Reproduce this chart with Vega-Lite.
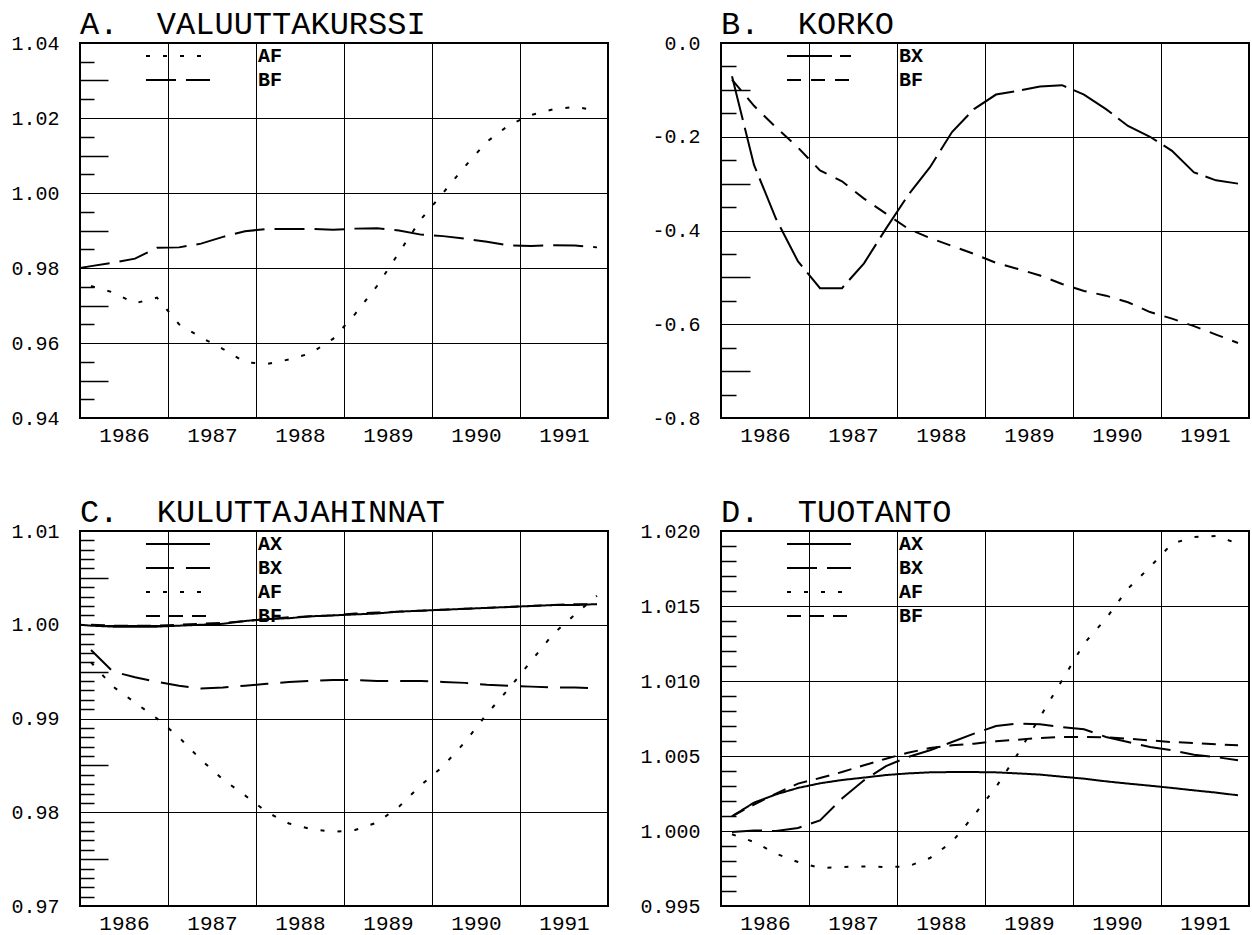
{
  "$schema": "https://vega.github.io/schema/vega-lite/v6.json",
  "background": "white",
  "padding": {"left": 9, "top": 7, "right": 5, "bottom": 2},
  "bounds": "flush",
  "columns": 2,
  "spacing": {"row": 113, "column": 113},
  "resolve": {"scale": {"strokeDash": "independent"}, "legend": {"strokeDash": "independent"}},
  "config": {
    "font": "Liberation Mono",
    "view": {"stroke": "black", "strokeWidth": 2},
    "axis": {"labelFont": "Liberation Mono", "labelFontSize": 20, "labelColor": "black", "domain": false, "ticks": false, "tickSize": 0, "gridColor": "black", "gridOpacity": 1, "gridWidth": 1, "title": null},
    "axisX": {"labelFontSize": 21},
    "legend": {"title": null, "symbolType": "stroke", "symbolSize": 4096, "symbolStrokeWidth": 2, "symbolStrokeColor": "black", "labelFont": "Liberation Mono", "labelFontSize": 20, "labelFontWeight": "bold", "labelColor": "black", "labelOffset": 47, "clipHeight": 24, "rowPadding": 0, "padding": 0},
    "title": {"font": "Liberation Mono", "fontSize": 32, "fontWeight": "normal", "anchor": "start", "frame": "group", "color": "black", "offset": -8, "baseline": "alphabetic"}
  },
  "concat": [
    {
      "title": {"text": "A.\u00a0\u00a0VALUUTTAKURSSI"},
      "width": 528, "height": 375,
      "data": {"values": [
        {"s":"AF","t":1986.125,"v":0.9752},{"s":"AF","t":1986.375,"v":0.9735},{"s":"AF","t":1986.625,"v":0.9706},{"s":"AF","t":1986.875,"v":0.9721},
        {"s":"AF","t":1987.125,"v":0.965},{"s":"AF","t":1987.375,"v":0.9615},{"s":"AF","t":1987.625,"v":0.9584},{"s":"AF","t":1987.875,"v":0.9549},
        {"s":"AF","t":1988.125,"v":0.9544},{"s":"AF","t":1988.375,"v":0.9556},{"s":"AF","t":1988.625,"v":0.9573},{"s":"AF","t":1988.875,"v":0.9611},
        {"s":"AF","t":1989.125,"v":0.9677},{"s":"AF","t":1989.375,"v":0.9752},{"s":"AF","t":1989.625,"v":0.9841},{"s":"AF","t":1989.875,"v":0.993},
        {"s":"AF","t":1990.125,"v":1.0},{"s":"AF","t":1990.375,"v":1.0071},{"s":"AF","t":1990.625,"v":1.0137},{"s":"AF","t":1990.875,"v":1.0181},
        {"s":"AF","t":1991.125,"v":1.0208},{"s":"AF","t":1991.375,"v":1.0223},{"s":"AF","t":1991.625,"v":1.023},{"s":"AF","t":1991.875,"v":1.022},
        {"s":"BF","t":1986.0,"v":0.9800},
        {"s":"BF","t":1986.125,"v":0.9805},{"s":"BF","t":1986.375,"v":0.9814},{"s":"BF","t":1986.625,"v":0.9825},{"s":"BF","t":1986.875,"v":0.9854},
        {"s":"BF","t":1987.125,"v":0.9855},{"s":"BF","t":1987.375,"v":0.9865},{"s":"BF","t":1987.625,"v":0.9883},{"s":"BF","t":1987.875,"v":0.9898},
        {"s":"BF","t":1988.125,"v":0.9904},{"s":"BF","t":1988.375,"v":0.9904},{"s":"BF","t":1988.625,"v":0.9904},{"s":"BF","t":1988.875,"v":0.9902},
        {"s":"BF","t":1989.125,"v":0.9905},{"s":"BF","t":1989.375,"v":0.9906},{"s":"BF","t":1989.625,"v":0.99},{"s":"BF","t":1989.875,"v":0.9889},
        {"s":"BF","t":1990.125,"v":0.9885},{"s":"BF","t":1990.375,"v":0.9878},{"s":"BF","t":1990.625,"v":0.987},{"s":"BF","t":1990.875,"v":0.986},
        {"s":"BF","t":1991.125,"v":0.9859},{"s":"BF","t":1991.375,"v":0.9861},{"s":"BF","t":1991.625,"v":0.986},{"s":"BF","t":1991.875,"v":0.9855}
      ]},
      "layer": [
        {
          "mark": {"type": "line", "strokeWidth": 2, "color": "black"},
          "encoding": {
            "x": {"field": "t", "type": "quantitative", "scale": {"domain": [1986, 1992], "nice": false, "zero": false},
                  "axis": {"values": [1986,1987,1988,1989,1990,1991], "format": "d", "labelOffset": 44, "grid": true, "labelPadding": 6, "labelFlush": false, "labelOverlap": false, "labelBound": false}},
            "y": {"field": "v", "type": "quantitative", "scale": {"domain": [0.94, 1.04], "nice": false, "zero": false},
                  "axis": {"orient": "left", "values": [0.94,0.96,0.98,1.0,1.02,1.04], "format": ".2f", "grid": true, "labelPadding": 21}},
            "strokeDash": {"field": "s", "type": "nominal", "scale": {"domain": ["AF","BF"], "range": [[4,13],[30,10]]},
                           "legend": {"orient": "none", "legendX": 65, "legendY": 1}}
          }
        },
        {
          "mark": {"type": "point", "opacity": 0},
          "encoding": {
            "x": {"field": "t", "type": "quantitative", "scale": {"domain": [1986, 1992], "nice": false, "zero": false}, "axis": null},
            "y": {"field": "v", "type": "quantitative", "scale": {"domain": [0.94, 1.04], "nice": false, "zero": false},
            "axis": {"orient": "left", "values": [0.945,0.955,0.965,0.975,0.985,0.995,1.005,1.015,1.025,1.035], "labels": false, "grid": false, "ticks": true, "tickSize": -14, "tickColor": "black", "tickWidth": 1.5}}}
        },
        {
          "mark": {"type": "point", "opacity": 0},
          "encoding": {
            "x": {"field": "t", "type": "quantitative", "scale": {"domain": [1986, 1992], "nice": false, "zero": false}, "axis": null},
            "y": {"field": "v", "type": "quantitative", "scale": {"domain": [0.94, 1.04], "nice": false, "zero": false},
            "axis": {"orient": "left", "values": [0.95,0.97,0.99,1.01,1.03], "labels": false, "grid": false, "ticks": true, "tickSize": -28, "tickColor": "black", "tickWidth": 1.5}}}
        }
      ],
      "resolve": {"axis": {"y": "independent", "x": "independent"}}
    },
    {
      "title": {"text": "B.\u00a0\u00a0KORKO"},
      "width": 528, "height": 375,
      "data": {"values": [
        {"s":"BX","t":1986.125,"v":-0.071},{"s":"BX","t":1986.375,"v":-0.26},{"s":"BX","t":1986.625,"v":-0.375},{"s":"BX","t":1986.875,"v":-0.466},
        {"s":"BX","t":1987.125,"v":-0.523},{"s":"BX","t":1987.375,"v":-0.523},{"s":"BX","t":1987.625,"v":-0.47},{"s":"BX","t":1987.875,"v":-0.396},
        {"s":"BX","t":1988.125,"v":-0.325},{"s":"BX","t":1988.375,"v":-0.265},{"s":"BX","t":1988.625,"v":-0.19},{"s":"BX","t":1988.875,"v":-0.141},
        {"s":"BX","t":1989.125,"v":-0.11},{"s":"BX","t":1989.375,"v":-0.102},{"s":"BX","t":1989.625,"v":-0.093},{"s":"BX","t":1989.875,"v":-0.09},
        {"s":"BX","t":1990.125,"v":-0.11},{"s":"BX","t":1990.375,"v":-0.141},{"s":"BX","t":1990.625,"v":-0.177},{"s":"BX","t":1990.875,"v":-0.2},
        {"s":"BX","t":1991.125,"v":-0.23},{"s":"BX","t":1991.375,"v":-0.276},{"s":"BX","t":1991.625,"v":-0.293},{"s":"BX","t":1991.875,"v":-0.3},
        {"s":"BF","t":1986.125,"v":-0.078},{"s":"BF","t":1986.375,"v":-0.134},{"s":"BF","t":1986.625,"v":-0.18},{"s":"BF","t":1986.875,"v":-0.223},
        {"s":"BF","t":1987.125,"v":-0.272},{"s":"BF","t":1987.375,"v":-0.295},{"s":"BF","t":1987.625,"v":-0.332},{"s":"BF","t":1987.875,"v":-0.364},
        {"s":"BF","t":1988.125,"v":-0.396},{"s":"BF","t":1988.375,"v":-0.416},{"s":"BF","t":1988.625,"v":-0.433},{"s":"BF","t":1988.875,"v":-0.45},
        {"s":"BF","t":1989.125,"v":-0.469},{"s":"BF","t":1989.375,"v":-0.482},{"s":"BF","t":1989.625,"v":-0.496},{"s":"BF","t":1989.875,"v":-0.514},
        {"s":"BF","t":1990.125,"v":-0.529},{"s":"BF","t":1990.375,"v":-0.539},{"s":"BF","t":1990.625,"v":-0.553},{"s":"BF","t":1990.875,"v":-0.574},
        {"s":"BF","t":1991.125,"v":-0.588},{"s":"BF","t":1991.375,"v":-0.604},{"s":"BF","t":1991.625,"v":-0.622},{"s":"BF","t":1991.875,"v":-0.64}
      ]},
      "layer": [
        {
          "mark": {"type": "line", "strokeWidth": 2, "color": "black"},
          "encoding": {
            "x": {"field": "t", "type": "quantitative", "scale": {"domain": [1986, 1992], "nice": false, "zero": false},
                  "axis": {"values": [1986,1987,1988,1989,1990,1991], "format": "d", "labelOffset": 44, "grid": true, "labelPadding": 6, "labelFlush": false, "labelOverlap": false, "labelBound": false}},
            "y": {"field": "v", "type": "quantitative", "scale": {"domain": [-0.8, 0], "nice": false, "zero": false},
                  "axis": {"orient": "left", "values": [-0.8,-0.6,-0.4,-0.2,0], "labelExpr": "replace(format(datum.value, '.1f'), '\u2212', '-')", "grid": true, "labelPadding": 21}},
            "strokeDash": {"field": "s", "type": "nominal", "scale": {"domain": ["BX","BF"], "range": [[45,8],[14,10]]},
                           "legend": {"orient": "none", "legendX": 65, "legendY": 1}}
          }
        },
        {
          "mark": {"type": "point", "opacity": 0},
          "encoding": {
            "x": {"field": "t", "type": "quantitative", "scale": {"domain": [1986, 1992], "nice": false, "zero": false}, "axis": null},
            "y": {"field": "v", "type": "quantitative", "scale": {"domain": [-0.8, 0], "nice": false, "zero": false},
            "axis": {"orient": "left", "values": [-0.75,-0.65,-0.55,-0.45,-0.35,-0.25,-0.15,-0.05], "labels": false, "grid": false, "ticks": true, "tickSize": -15, "tickColor": "black", "tickWidth": 1.5}}}
        },
        {
          "mark": {"type": "point", "opacity": 0},
          "encoding": {
            "x": {"field": "t", "type": "quantitative", "scale": {"domain": [1986, 1992], "nice": false, "zero": false}, "axis": null},
            "y": {"field": "v", "type": "quantitative", "scale": {"domain": [-0.8, 0], "nice": false, "zero": false},
            "axis": {"orient": "left", "values": [-0.7,-0.5,-0.3,-0.1], "labels": false, "grid": false, "ticks": true, "tickSize": -29, "tickColor": "black", "tickWidth": 1.5}}}
        }
      ],
      "resolve": {"axis": {"y": "independent", "x": "independent"}}
    },
    {
      "title": {"text": "C.\u00a0\u00a0KULUTTAJAHINNAT"},
      "width": 528, "height": 375,
      "data": {"values": [
        {"s":"AX","t":1986.0,"v":1.0},
        {"s":"AX","t":1986.125,"v":0.9999},{"s":"AX","t":1986.375,"v":0.9998},{"s":"AX","t":1986.625,"v":0.9998},{"s":"AX","t":1986.875,"v":0.9998},
        {"s":"AX","t":1987.125,"v":0.9999},{"s":"AX","t":1987.375,"v":1.0},{"s":"AX","t":1987.625,"v":1.0001},{"s":"AX","t":1987.875,"v":1.0004},
        {"s":"AX","t":1988.125,"v":1.0006},{"s":"AX","t":1988.375,"v":1.0007},{"s":"AX","t":1988.625,"v":1.0009},{"s":"AX","t":1988.875,"v":1.001},
        {"s":"AX","t":1989.125,"v":1.0011},{"s":"AX","t":1989.375,"v":1.0012},{"s":"AX","t":1989.625,"v":1.0014},{"s":"AX","t":1989.875,"v":1.0015},
        {"s":"AX","t":1990.125,"v":1.0016},{"s":"AX","t":1990.375,"v":1.0017},{"s":"AX","t":1990.625,"v":1.0018},{"s":"AX","t":1990.875,"v":1.0019},
        {"s":"AX","t":1991.125,"v":1.002},{"s":"AX","t":1991.375,"v":1.0021},{"s":"AX","t":1991.625,"v":1.0021},{"s":"AX","t":1991.875,"v":1.0022},
        {"s":"BX","t":1986.125,"v":0.9973},{"s":"BX","t":1986.375,"v":0.995},{"s":"BX","t":1986.625,"v":0.9944},{"s":"BX","t":1986.875,"v":0.9939},
        {"s":"BX","t":1987.125,"v":0.9935},{"s":"BX","t":1987.375,"v":0.9932},{"s":"BX","t":1987.625,"v":0.9933},{"s":"BX","t":1987.875,"v":0.9935},
        {"s":"BX","t":1988.125,"v":0.9937},{"s":"BX","t":1988.375,"v":0.9939},{"s":"BX","t":1988.625,"v":0.994},{"s":"BX","t":1988.875,"v":0.9941},
        {"s":"BX","t":1989.125,"v":0.9941},{"s":"BX","t":1989.375,"v":0.994},{"s":"BX","t":1989.625,"v":0.994},{"s":"BX","t":1989.875,"v":0.994},
        {"s":"BX","t":1990.125,"v":0.9939},{"s":"BX","t":1990.375,"v":0.9938},{"s":"BX","t":1990.625,"v":0.9936},{"s":"BX","t":1990.875,"v":0.9935},
        {"s":"BX","t":1991.125,"v":0.9934},{"s":"BX","t":1991.375,"v":0.9933},{"s":"BX","t":1991.625,"v":0.9933},{"s":"BX","t":1991.875,"v":0.9932},
        {"s":"AF","t":1986.125,"v":0.996},{"s":"AF","t":1986.375,"v":0.9934},{"s":"AF","t":1986.625,"v":0.9917},{"s":"AF","t":1986.875,"v":0.99},
        {"s":"AF","t":1987.125,"v":0.988},{"s":"AF","t":1987.375,"v":0.9856},{"s":"AF","t":1987.625,"v":0.9835},{"s":"AF","t":1987.875,"v":0.9818},
        {"s":"AF","t":1988.125,"v":0.98},{"s":"AF","t":1988.375,"v":0.9788},{"s":"AF","t":1988.625,"v":0.9782},{"s":"AF","t":1988.875,"v":0.9779},
        {"s":"AF","t":1989.125,"v":0.9781},{"s":"AF","t":1989.375,"v":0.9789},{"s":"AF","t":1989.625,"v":0.9806},{"s":"AF","t":1989.875,"v":0.9829},
        {"s":"AF","t":1990.125,"v":0.9849},{"s":"AF","t":1990.375,"v":0.9875},{"s":"AF","t":1990.625,"v":0.9905},{"s":"AF","t":1990.875,"v":0.9932},
        {"s":"AF","t":1991.125,"v":0.9961},{"s":"AF","t":1991.375,"v":0.999},{"s":"AF","t":1991.625,"v":1.0011},{"s":"AF","t":1991.875,"v":1.0031},
        {"s":"BF","t":1986.125,"v":1.0},{"s":"BF","t":1986.375,"v":0.9999},{"s":"BF","t":1986.625,"v":0.9999},{"s":"BF","t":1986.875,"v":0.9999},
        {"s":"BF","t":1987.125,"v":1.0},{"s":"BF","t":1987.375,"v":1.0001},{"s":"BF","t":1987.625,"v":1.0002},{"s":"BF","t":1987.875,"v":1.0004},
        {"s":"BF","t":1988.125,"v":1.0006},{"s":"BF","t":1988.375,"v":1.0008},{"s":"BF","t":1988.625,"v":1.0009},{"s":"BF","t":1988.875,"v":1.001},
        {"s":"BF","t":1989.125,"v":1.0012},{"s":"BF","t":1989.375,"v":1.0013},{"s":"BF","t":1989.625,"v":1.0014},{"s":"BF","t":1989.875,"v":1.0015},
        {"s":"BF","t":1990.125,"v":1.0016},{"s":"BF","t":1990.375,"v":1.0017},{"s":"BF","t":1990.625,"v":1.0018},{"s":"BF","t":1990.875,"v":1.0019},
        {"s":"BF","t":1991.125,"v":1.002},{"s":"BF","t":1991.375,"v":1.0021},{"s":"BF","t":1991.625,"v":1.0022},{"s":"BF","t":1991.875,"v":1.0022}
      ]},
      "layer": [
        {
          "mark": {"type": "line", "strokeWidth": 2, "color": "black"},
          "encoding": {
            "x": {"field": "t", "type": "quantitative", "scale": {"domain": [1986, 1992], "nice": false, "zero": false},
                  "axis": {"values": [1986,1987,1988,1989,1990,1991], "format": "d", "labelOffset": 44, "grid": true, "labelPadding": 6, "labelFlush": false, "labelOverlap": false, "labelBound": false}},
            "y": {"field": "v", "type": "quantitative", "scale": {"domain": [0.97, 1.01], "nice": false, "zero": false},
                  "axis": {"orient": "left", "values": [0.97,0.98,0.99,1.0,1.01], "format": ".2f", "grid": true, "labelPadding": 21}},
            "strokeDash": {"field": "s", "type": "nominal", "scale": {"domain": ["AX","BX","AF","BF"], "range": [[1,0],[28,12],[4,13],[14,9]]},
                           "legend": {"orient": "none", "legendX": 65, "legendY": 1}}
          }
        },
        {
          "mark": {"type": "point", "opacity": 0},
          "encoding": {
            "x": {"field": "t", "type": "quantitative", "scale": {"domain": [1986, 1992], "nice": false, "zero": false}, "axis": null},
            "y": {"field": "v", "type": "quantitative", "scale": {"domain": [0.97, 1.01], "nice": false, "zero": false},
            "axis": {"orient": "left", "values": [0.971,0.972,0.973,0.974,0.976,0.977,0.978,0.979,0.981,0.982,0.983,0.984,0.986,0.987,0.988,0.989,0.991,0.992,0.993,0.994,0.996,0.997,0.998,0.999,1.001,1.002,1.003,1.004,1.006,1.007,1.008,1.009], "labels": false, "grid": false, "ticks": true, "tickSize": -14, "tickColor": "black", "tickWidth": 1.5}}}
        },
        {
          "mark": {"type": "point", "opacity": 0},
          "encoding": {
            "x": {"field": "t", "type": "quantitative", "scale": {"domain": [1986, 1992], "nice": false, "zero": false}, "axis": null},
            "y": {"field": "v", "type": "quantitative", "scale": {"domain": [0.97, 1.01], "nice": false, "zero": false},
            "axis": {"orient": "left", "values": [0.975,0.985,0.995,1.005], "labels": false, "grid": false, "ticks": true, "tickSize": -28, "tickColor": "black", "tickWidth": 1.5}}}
        }
      ],
      "resolve": {"axis": {"y": "independent", "x": "independent"}}
    },
    {
      "title": {"text": "D.\u00a0\u00a0TUOTANTO"},
      "width": 528, "height": 375,
      "data": {"values": [
        {"s":"AX","t":1986.125,"v":1.00098},{"s":"AX","t":1986.375,"v":1.00189},{"s":"AX","t":1986.625,"v":1.00244},{"s":"AX","t":1986.875,"v":1.00287},
        {"s":"AX","t":1987.125,"v":1.00318},{"s":"AX","t":1987.375,"v":1.0034},{"s":"AX","t":1987.625,"v":1.00356},{"s":"AX","t":1987.875,"v":1.00373},
        {"s":"AX","t":1988.125,"v":1.00384},{"s":"AX","t":1988.375,"v":1.00391},{"s":"AX","t":1988.625,"v":1.00393},{"s":"AX","t":1988.875,"v":1.00393},
        {"s":"AX","t":1989.125,"v":1.00391},{"s":"AX","t":1989.375,"v":1.00384},{"s":"AX","t":1989.625,"v":1.00376},{"s":"AX","t":1989.875,"v":1.00362},
        {"s":"AX","t":1990.125,"v":1.00349},{"s":"AX","t":1990.375,"v":1.00331},{"s":"AX","t":1990.625,"v":1.00316},{"s":"AX","t":1990.875,"v":1.00302},
        {"s":"AX","t":1991.125,"v":1.00287},{"s":"AX","t":1991.375,"v":1.00271},{"s":"AX","t":1991.625,"v":1.00256},{"s":"AX","t":1991.875,"v":1.00238},
        {"s":"BX","t":1986.125,"v":0.99993},{"s":"BX","t":1986.375,"v":1.00004},{"s":"BX","t":1986.625,"v":1.0},{"s":"BX","t":1986.875,"v":1.0002},
        {"s":"BX","t":1987.125,"v":1.00071},{"s":"BX","t":1987.375,"v":1.00216},{"s":"BX","t":1987.625,"v":1.00338},{"s":"BX","t":1987.875,"v":1.00433},
        {"s":"BX","t":1988.125,"v":1.00493},{"s":"BX","t":1988.375,"v":1.00538},{"s":"BX","t":1988.625,"v":1.00593},{"s":"BX","t":1988.875,"v":1.00649},
        {"s":"BX","t":1989.125,"v":1.007},{"s":"BX","t":1989.375,"v":1.00716},{"s":"BX","t":1989.625,"v":1.00711},{"s":"BX","t":1989.875,"v":1.00693},
        {"s":"BX","t":1990.125,"v":1.00678},{"s":"BX","t":1990.375,"v":1.00627},{"s":"BX","t":1990.625,"v":1.00593},{"s":"BX","t":1990.875,"v":1.0056},
        {"s":"BX","t":1991.125,"v":1.00538},{"s":"BX","t":1991.375,"v":1.00509},{"s":"BX","t":1991.625,"v":1.00493},{"s":"BX","t":1991.875,"v":1.00471},
        {"s":"AF","t":1986.125,"v":0.99978},{"s":"AF","t":1986.375,"v":0.99927},{"s":"AF","t":1986.625,"v":0.99849},{"s":"AF","t":1986.875,"v":0.99793},
        {"s":"AF","t":1987.125,"v":0.99753},{"s":"AF","t":1987.375,"v":0.9976},{"s":"AF","t":1987.625,"v":0.99764},{"s":"AF","t":1987.875,"v":0.9976},
        {"s":"AF","t":1988.125,"v":0.99764},{"s":"AF","t":1988.375,"v":0.9982},{"s":"AF","t":1988.625,"v":0.99927},{"s":"AF","t":1988.875,"v":1.00104},
        {"s":"AF","t":1989.125,"v":1.00293},{"s":"AF","t":1989.375,"v":1.00516},{"s":"AF","t":1989.625,"v":1.0076},{"s":"AF","t":1989.875,"v":1.01004},
        {"s":"AF","t":1990.125,"v":1.01249},{"s":"AF","t":1990.375,"v":1.01416},{"s":"AF","t":1990.625,"v":1.01616},{"s":"AF","t":1990.875,"v":1.0176},
        {"s":"AF","t":1991.125,"v":1.01916},{"s":"AF","t":1991.375,"v":1.0196},{"s":"AF","t":1991.625,"v":1.01967},{"s":"AF","t":1991.875,"v":1.01916},
        {"s":"BF","t":1986.125,"v":1.00098},{"s":"BF","t":1986.375,"v":1.00176},{"s":"BF","t":1986.625,"v":1.00249},{"s":"BF","t":1986.875,"v":1.00316},
        {"s":"BF","t":1987.125,"v":1.00353},{"s":"BF","t":1987.375,"v":1.00393},{"s":"BF","t":1987.625,"v":1.00438},{"s":"BF","t":1987.875,"v":1.00482},
        {"s":"BF","t":1988.125,"v":1.00522},{"s":"BF","t":1988.375,"v":1.00553},{"s":"BF","t":1988.625,"v":1.00571},{"s":"BF","t":1988.875,"v":1.00582},
        {"s":"BF","t":1989.125,"v":1.00598},{"s":"BF","t":1989.375,"v":1.00609},{"s":"BF","t":1989.625,"v":1.0062},{"s":"BF","t":1989.875,"v":1.00627},
        {"s":"BF","t":1990.125,"v":1.00627},{"s":"BF","t":1990.375,"v":1.00624},{"s":"BF","t":1990.625,"v":1.00616},{"s":"BF","t":1990.875,"v":1.00604},
        {"s":"BF","t":1991.125,"v":1.00593},{"s":"BF","t":1991.375,"v":1.00587},{"s":"BF","t":1991.625,"v":1.00578},{"s":"BF","t":1991.875,"v":1.00571}
      ]},
      "layer": [
        {
          "mark": {"type": "line", "strokeWidth": 2, "color": "black"},
          "encoding": {
            "x": {"field": "t", "type": "quantitative", "scale": {"domain": [1986, 1992], "nice": false, "zero": false},
                  "axis": {"values": [1986,1987,1988,1989,1990,1991], "format": "d", "labelOffset": 44, "grid": true, "labelPadding": 6, "labelFlush": false, "labelOverlap": false, "labelBound": false}},
            "y": {"field": "v", "type": "quantitative", "scale": {"domain": [0.995, 1.02], "nice": false, "zero": false},
                  "axis": {"orient": "left", "values": [0.995,1.0,1.005,1.01,1.015,1.02], "format": ".3f", "grid": true, "labelPadding": 21}},
            "strokeDash": {"field": "s", "type": "nominal", "scale": {"domain": ["AX","BX","AF","BF"], "range": [[1,0],[30,10],[4,13],[14,9]]},
                           "legend": {"orient": "none", "legendX": 65, "legendY": 1}}
          }
        },
        {
          "mark": {"type": "point", "opacity": 0},
          "encoding": {
            "x": {"field": "t", "type": "quantitative", "scale": {"domain": [1986, 1992], "nice": false, "zero": false}, "axis": null},
            "y": {"field": "v", "type": "quantitative", "scale": {"domain": [0.995, 1.02], "nice": false, "zero": false},
            "axis": {"orient": "left", "values": [0.996,0.997,0.998,0.999,1.001,1.002,1.003,1.004,1.006,1.007,1.008,1.009,1.011,1.012,1.013,1.014,1.016,1.017,1.018,1.019], "labels": false, "grid": false, "ticks": true, "tickSize": -15, "tickColor": "black", "tickWidth": 1.5}}}
        }
      ],
      "resolve": {"axis": {"y": "independent", "x": "independent"}}
    }
  ]
}
